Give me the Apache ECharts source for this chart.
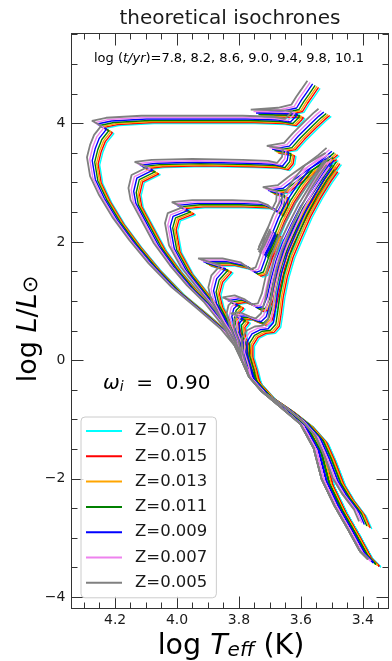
<!DOCTYPE html>
<html><head><meta charset="utf-8">
<script src="https://cdn.jsdelivr.net/npm/echarts@6/dist/echarts.min.js"></script>
<style>html,body{margin:0;padding:0;background:#fff}#c{width:392px;height:661px}</style>
</head><body><div id="c"></div>
<script>
// ---------- data ----------
const ageList = ['7.8','8.2','8.6','9.0','9.4','9.8','10.1'];
const zNames = ['Z=0.017','Z=0.015','Z=0.013','Z=0.011','Z=0.009','Z=0.007','Z=0.005'];
const zColors = ['#00ffff','#ff0000','#ffa500','#008000','#0000ff','#ee82ee','#808080'];
// per-metallicity displacement of each track (log Teff, log L)
const dLogT = [-0.022,-0.017,-0.012,-0.006,0.002,0.010,0.019];
const dLogL = [-0.05,-0.035,-0.018,0,0.025,0.05,0.08];

// base tracks [log Teff, log L] (Z=0.011 reference curve)
const iso78 = [[3.410,-2.593],[3.449,-2.322],[3.478,-2.068],[3.508,-1.661],[3.534,-1.356],[3.580,-1.085],[3.638,-0.847],[3.704,-0.610],[3.746,-0.373],[3.772,-0.085],[3.795,0.170],[3.841,0.458],[3.916,0.797],[3.998,1.153],[4.073,1.559],[4.135,1.949],[4.190,2.339],[4.233,2.712],[4.262,3.030],[4.272,3.350],[4.262,3.559],[4.249,3.729],[4.226,3.881],[4.256,3.966],[4.210,4.017],[4.096,4.051],[3.932,4.051],[3.769,4.051],[3.671,4.034],[3.632,4.000],[3.616,4.085],[3.609,4.136],[3.743,4.153],[3.655,4.186],[3.612,4.237],[3.596,4.373],[3.580,4.492],[3.560,4.644]];
const iso82 = [[3.393,-2.797],[3.410,-2.593],[3.449,-2.322],[3.478,-2.068],[3.508,-1.661],[3.534,-1.356],[3.580,-1.085],[3.638,-0.847],[3.704,-0.610],[3.746,-0.373],[3.772,-0.085],[3.795,0.170],[3.834,0.508],[3.893,0.898],[3.949,1.186],[4.004,1.525],[4.056,1.898],[4.105,2.373],[4.131,2.627],[4.138,2.831],[4.128,3.051],[4.076,3.186],[4.118,3.271],[4.063,3.305],[3.932,3.322],[3.769,3.305],[3.687,3.288],[3.658,3.254],[3.642,3.356],[3.638,3.492],[3.691,3.542],[3.635,3.593],[3.606,3.763],[3.567,3.966],[3.540,4.100],[3.524,4.170]];
const iso86 = [[3.390,-3.305],[3.429,-2.932],[3.472,-2.542],[3.514,-2.085],[3.540,-1.559],[3.583,-1.153],[3.648,-0.864],[3.710,-0.593],[3.749,-0.356],[3.772,-0.085],[3.785,0.136],[3.815,0.424],[3.857,0.763],[3.909,1.102],[3.968,1.492],[4.007,1.864],[4.020,2.237],[4.011,2.407],[3.962,2.508],[3.998,2.593],[3.932,2.627],[3.802,2.627],[3.720,2.610],[3.687,2.542],[3.674,2.475],[3.661,2.610],[3.658,2.780],[3.704,2.847],[3.655,2.881],[3.622,3.017],[3.573,3.203],[3.524,3.356],[3.501,3.424]];
const iso90 = [[3.364,-3.441],[3.390,-3.305],[3.429,-2.932],[3.472,-2.542],[3.514,-2.085],[3.540,-1.559],[3.583,-1.153],[3.648,-0.864],[3.710,-0.593],[3.749,-0.356],[3.772,-0.085],[3.795,0.170],[3.815,0.339],[3.844,0.678],[3.870,0.932],[3.880,1.153],[3.870,1.356],[3.841,1.525],[3.913,1.644],[3.834,1.644],[3.776,1.576],[3.746,1.458],[3.727,1.492],[3.713,1.695],[3.697,2.034],[3.671,2.373],[3.638,2.712],[3.606,2.966],[3.567,3.220],[3.524,3.390],[3.498,3.508],null,[3.717,1.831],[3.704,1.983],[3.684,2.203]];
const iso94 = [[3.364,-3.441],[3.390,-3.305],[3.429,-2.932],[3.472,-2.542],[3.514,-2.085],[3.540,-1.559],[3.583,-1.153],[3.648,-0.864],[3.710,-0.593],[3.749,-0.356],[3.772,-0.085],[3.792,0.254],[3.811,0.508],[3.821,0.712],[3.815,0.847],[3.802,0.915],[3.834,0.983],[3.795,1.017],[3.762,0.949],[3.740,0.864],[3.720,0.881],[3.707,1.051],[3.694,1.356],[3.678,1.661],[3.658,1.949],[3.632,2.237],[3.599,2.576],[3.560,2.881],[3.527,3.136],[3.504,3.305],null,[3.720,1.780],[3.707,1.932],[3.687,2.153]];
const iso98 = [[3.364,-3.441],[3.390,-3.305],[3.429,-2.932],[3.472,-2.542],[3.514,-2.085],[3.540,-1.559],[3.583,-1.153],[3.648,-0.864],[3.710,-0.593],[3.749,-0.356],[3.772,-0.085],[3.782,0.254],[3.795,0.424],[3.798,0.593],[3.785,0.678],[3.808,0.712],[3.776,0.729],[3.746,0.661],[3.727,0.627],[3.710,0.712],[3.697,0.932],[3.684,1.271],[3.668,1.610],[3.645,1.949],[3.619,2.237],[3.586,2.576],[3.547,2.915],[3.514,3.186],[3.491,3.356],null,[3.717,1.746],[3.700,1.915],[3.681,2.136]];
const iso101 = [[3.364,-3.441],[3.390,-3.305],[3.429,-2.932],[3.472,-2.542],[3.514,-2.085],[3.540,-1.559],[3.583,-1.153],[3.648,-0.864],[3.710,-0.593],[3.749,-0.356],[3.759,-0.136],[3.772,0.085],[3.772,0.288],[3.756,0.424],[3.730,0.492],[3.704,0.508],[3.687,0.610],[3.681,0.814],[3.674,1.102],[3.661,1.441],[3.642,1.780],[3.616,2.102],[3.586,2.458],[3.553,2.780],[3.521,3.051],[3.498,3.220],null,[3.713,1.729],[3.697,1.881],[3.678,2.102]];
const isochrones = [iso78, iso82, iso86, iso90, iso94, iso98, iso101];

// age labels drawn next to the tracks: [text, log Teff, log L]
const ageLabels = [['7.8',4.236,4.373],['8.2',4.122,3.525],['8.6',3.991,2.864],['9.0',3.890,1.864],['9.4',3.779,1.254],['10.1',3.674,0.102]];

const xMajor = [3.4,3.6,3.8,4.0,4.2];
const xMinor = [3.35,3.45,3.5,3.55,3.65,3.7,3.75,3.85,3.9,3.95,4.05,4.1,4.15,4.25,4.3];
const yMajor = [-4,-2,0,2,4];
const yMinor = [-3.5,-3,-2.5,-1.5,-1,-0.5,0.5,1,1.5,2.5,3,3.5,4.5,5,5.5];
const xMin = 3.317, xMax = 4.341, yMin = -4.19, yMax = 5.52;
const omegaText = '0.90';

// ---------- chart ----------
const FONT = 'DejaVu Sans';
const AX = '#333333';
const TXT = '#1a1a1a';
const chart = echarts.init(document.getElementById('c'), null, {renderer:'canvas'});

function xAx(pos, ticks, len, showLine, labels){
  return {type:'value', min:xMin, max:xMax, inverse:true, position:pos, gridIndex:0,
    axisLine:{show:showLine, onZero:false, lineStyle:{color:AX, width:1}},
    axisTick:{show:true, inside:true, length:len, customValues:ticks, lineStyle:{color:AX, width:1}},
    axisLabel:{show:labels, customValues:ticks, formatter:v=>v.toFixed(1), fontSize:14, fontFamily:FONT, color:TXT, margin:5},
    splitLine:{show:false}};
}
function yAx(pos, ticks, len, showLine, labels){
  return {type:'value', min:yMin, max:yMax, position:pos, gridIndex:0,
    axisLine:{show:showLine, onZero:false, lineStyle:{color:AX, width:1}},
    axisTick:{show:true, inside:true, length:len, customValues:ticks, lineStyle:{color:AX, width:1}},
    axisLabel:{show:labels, customValues:ticks, formatter:v=>String(v).replace('-','\u2212'), fontSize:14, fontFamily:FONT, color:TXT, margin:6},
    splitLine:{show:false}};
}

const series = [];
zNames.forEach((zn, z) => {
  isochrones.forEach((iso, a) => {
    series.push({
      type:'line', name:zn, xAxisIndex:0, yAxisIndex:0,
      data: iso.map(p => p ? [p[0] + dLogT[z], p[1] + dLogL[z]] : null),
      showSymbol:false, symbol:'none', connectNulls:false, silent:true,
      lineStyle:{color:zColors[z], width: z === 6 ? 1.8 : 1.4},
      itemStyle:{color:zColors[z]},
      animation:false
    });
  });
});
series.push({
  type:'scatter', name:'ages', xAxisIndex:0, yAxisIndex:0, symbolSize:1, silent:true,
  itemStyle:{opacity:0},
  data: ageLabels.map(d => [d[1], d[2], d[0]]),
  label:{show:true, position:'inside', formatter:p=>p.data[2], fontSize:14.5, fontFamily:FONT, color:TXT},
  animation:false, z:5
});

const option = {
  backgroundColor:'#ffffff',
  animation:false,
  grid:{left:71.5, right:3.5, top:33.5, bottom:52.5, containLabel:false, outerBoundsMode:'none'},
  xAxis:[xAx('bottom', xMajor, 12, true, true), xAx('bottom', xMinor, 6, false, false),
         xAx('top', xMajor, 12, true, false), xAx('top', xMinor, 6, false, false)],
  yAxis:[yAx('left', yMajor, 12, true, true), yAx('left', yMinor, 6, false, false),
         yAx('right', yMajor, 12, true, false), yAx('right', yMinor, 6, false, false)],
  legend:{
    data: zNames, orient:'vertical', left:81, top:417, icon:'rect',
    padding:[4,9,5,5], itemGap:5.3, itemWidth:36, itemHeight:2,
    backgroundColor:'rgba(255,255,255,0.8)', borderColor:'#cccccc', borderWidth:1, borderRadius:4,
    textStyle:{fontSize:16.5, fontFamily:FONT, color:TXT, lineHeight:20, padding:[0,0,0,8]},
    selectedMode:false, z:10
  },
  graphic:[
    {type:'text', x:230, y:19, z:10, style:{text:'theoretical isochrones', font:'20px "DejaVu Sans"', fill:TXT, textAlign:'center', textVerticalAlign:'middle'}},
    {type:'text', x:229, y:59, z:10, style:{
      text:'{n|log (}{i|t/yr}{n|)=' + ageList.join(', ') + '}',
      textAlign:'center', textVerticalAlign:'middle',
      rich:{n:{fontSize:13, fontFamily:FONT, color:TXT}, i:{fontSize:13, fontFamily:FONT, fontStyle:'italic', color:TXT}}}},
    {type:'text', x:103, y:382, z:10, style:{
      text:'{i|\u03c9}{s|i}{n|  =  ' + omegaText + '}',
      textAlign:'left', textVerticalAlign:'middle',
      rich:{n:{fontSize:20, fontFamily:FONT, color:TXT, lineHeight:24, verticalAlign:'bottom'},
            i:{fontSize:20, fontFamily:FONT, fontStyle:'italic', color:TXT, lineHeight:24, verticalAlign:'bottom'},
            s:{fontSize:14, fontFamily:FONT, fontStyle:'italic', color:TXT, lineHeight:12, verticalAlign:'bottom'}}}},
    {type:'text', x:231, y:645, z:10, style:{
      text:'{n|log }{i|T}{s|eff}{n| (K)}',
      textAlign:'center', textVerticalAlign:'middle',
      rich:{n:{fontSize:28.5, fontFamily:FONT, color:TXT, lineHeight:32, verticalAlign:'bottom'},
            i:{fontSize:28.5, fontFamily:FONT, fontStyle:'italic', color:TXT, lineHeight:32, verticalAlign:'bottom'},
            s:{fontSize:20, fontFamily:FONT, fontStyle:'italic', color:TXT, lineHeight:19, verticalAlign:'bottom'}}}},
    {type:'text', x:26, y:329, rotation:Math.PI/2, z:10, style:{
      text:'{n|log }{i|L}{n|/}{i|L}{s|\u2299}',
      textAlign:'center', textVerticalAlign:'middle',
      rich:{n:{fontSize:27, fontFamily:FONT, color:TXT, lineHeight:32, verticalAlign:'bottom'},
            i:{fontSize:27, fontFamily:FONT, fontStyle:'italic', color:TXT, lineHeight:32, verticalAlign:'bottom'},
            s:{fontSize:21, fontFamily:FONT, color:TXT, lineHeight:19, verticalAlign:'bottom'}}}}
  ],
  series: series
};
chart.setOption(option);
</script>
</body></html>
